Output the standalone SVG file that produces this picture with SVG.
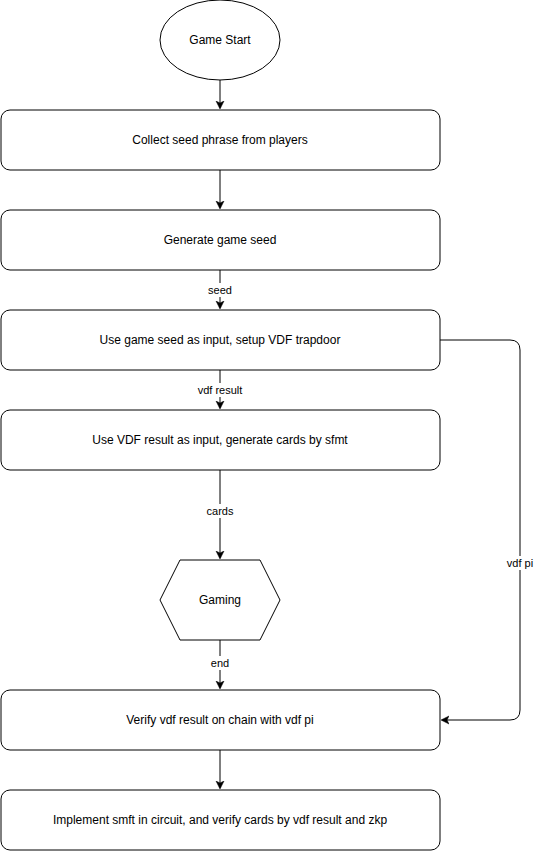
<svg xmlns="http://www.w3.org/2000/svg" width="534" height="851" viewBox="0 0 534 851">
<style>
.n{fill:#fff;stroke:#000;stroke-width:1}
.t{font-family:"Liberation Sans",Arial,sans-serif;font-size:12px;fill:#000;text-anchor:middle;dominant-baseline:central}
.l{font-family:"Liberation Sans",Arial,sans-serif;font-size:11px;fill:#000;text-anchor:middle;dominant-baseline:central}
.e{fill:none;stroke:#000;stroke-width:1}
.bg{fill:#fff}
</style>
<defs>
<marker id="a" markerWidth="10" markerHeight="10" refX="7" refY="4" orient="auto" markerUnits="userSpaceOnUse" viewBox="0 0 10 8">
<path d="M0,0 L8,4 L0,8 L2,4 Z" fill="#000" stroke="#000" stroke-width="0.5"/>
</marker>
</defs>
<rect width="534" height="851" fill="#fff"/>
<g id="edges">
<path class="e" d="M220,80 V108" marker-end="url(#a)"/>
<path class="e" d="M220,170 V208" marker-end="url(#a)"/>
<path class="e" d="M220,270 V308" marker-end="url(#a)"/>
<path class="e" d="M220,370 V408" marker-end="url(#a)"/>
<path class="e" d="M220,470 V558" marker-end="url(#a)"/>
<path class="e" d="M220,640 V688" marker-end="url(#a)"/>
<path class="e" d="M220,750 V788" marker-end="url(#a)"/>
<path class="e" d="M440,340 H510 Q520,340 520,350 V710 Q520,720 510,720 H442" marker-end="url(#a)"/>
<rect class="bg" x="207" y="283" width="26" height="14"/>
<text class="l" x="220" y="290">seed</text>
<rect class="bg" x="196" y="383" width="48" height="14"/>
<text class="l" x="220" y="390">vdf result</text>
<rect class="bg" x="204" y="504" width="32" height="14"/>
<text class="l" x="220" y="511">cards</text>
<rect class="bg" x="209" y="656" width="22" height="14"/>
<text class="l" x="220" y="663">end</text>
<rect class="bg" x="505" y="556" width="30" height="14"/>
<text class="l" x="520" y="563">vdf pi</text>
</g>
<g id="start">
<ellipse class="n" cx="220" cy="40" rx="60" ry="40"/>
<text class="t" x="220" y="40">Game Start</text>
</g>
<g id="collect">
<rect class="n" x="1" y="110" width="439" height="60" rx="9"/>
<text class="t" x="220" y="140">Collect seed phrase from players</text>
</g>
<g id="generate">
<rect class="n" x="1" y="210" width="439" height="60" rx="9"/>
<text class="t" x="220" y="240">Generate game seed</text>
</g>
<g id="vdf">
<rect class="n" x="1" y="310" width="439" height="60" rx="9"/>
<text class="t" x="220" y="340">Use game seed as input, setup VDF trapdoor</text>
</g>
<g id="cardsgen">
<rect class="n" x="1" y="410" width="439" height="60" rx="9"/>
<text class="t" x="220" y="440">Use VDF result as input, generate cards by sfmt</text>
</g>
<g id="gaming">
<polygon class="n" points="180,560 260,560 280,600 260,640 180,640 160,600"/>
<text class="t" x="220" y="600">Gaming</text>
</g>
<g id="verify">
<rect class="n" x="1" y="690" width="439" height="60" rx="9"/>
<text class="t" x="220" y="720">Verify vdf result on chain with vdf pi</text>
</g>
<g id="implement">
<rect class="n" x="1" y="790" width="439" height="60" rx="9"/>
<text class="t" x="220" y="820">Implement smft in circuit, and verify cards by vdf result and zkp</text>
</g>
</svg>
